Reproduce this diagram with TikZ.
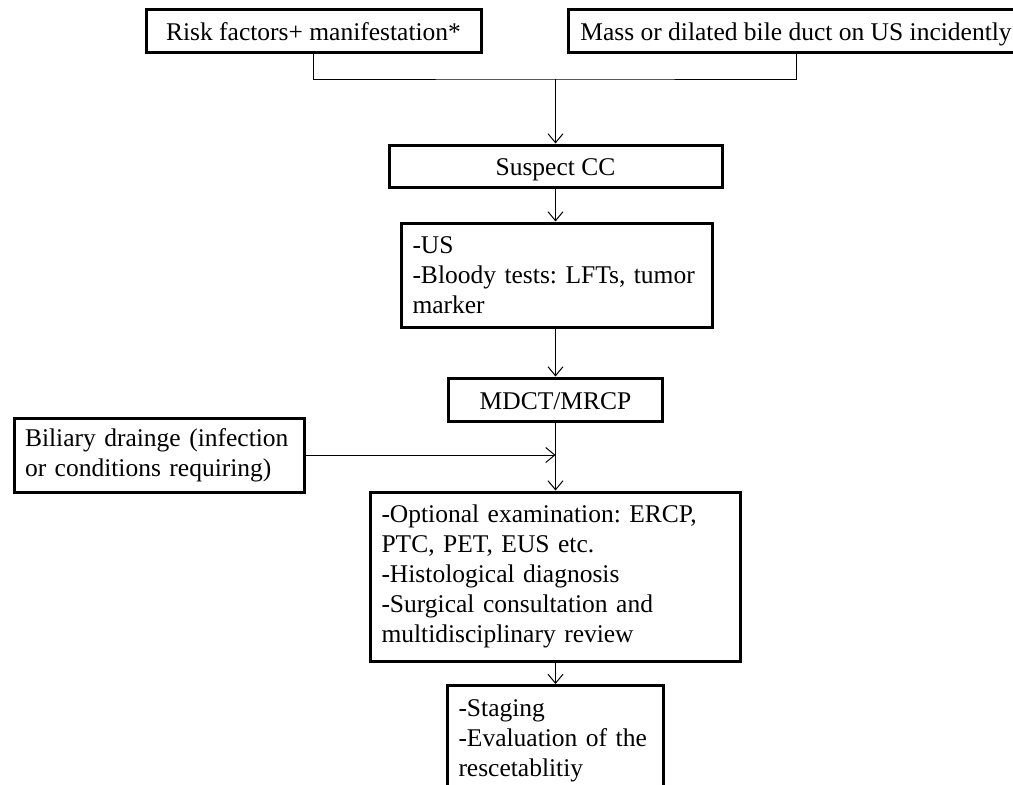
\documentclass[tikz,border=0pt]{standalone}
\usepackage{fontspec}
\setmainfont{Liberation Serif}
\usepackage{tikz}
\usetikzlibrary{arrows.meta}

\begin{document}
\frenchspacing
\begin{tikzpicture}[
  x=1pt, y=-1pt,
  font=\fontsize{25.5}{30}\selectfont\frenchspacing,
  stepbox/.style={draw, line width=3pt, inner sep=0pt, align=center,
    text height=24pt, text depth=5pt},
  listbox/.style={draw, line width=3pt, inner xsep=11pt, inner ysep=0pt,
    align=left, text width=#1},
  link/.style={line width=1pt},
  flow/.style={link, -{Straight Barb[length=9pt, width=15pt]}}
]
  \useasboundingbox (0,0) rectangle (1013,785);
  \clip (0,0) rectangle (1013,785);

  % entry points
  \node[stepbox, minimum width=335pt, minimum height=43pt] (risk) at (313.5,30.5)
    {Risk factors+ manifestation*};
  \node[stepbox, minimum width=456pt, minimum height=43pt] (mass) at (796,30.5)
    {Mass or dilated bile duct on US incidently};
  \coordinate (join) at (555.5,79);

  % work-up
  \node[stepbox, minimum width=333pt, minimum height=42pt] (suspect) at (555.5,166)
    {Suspect CC};
  \node[listbox=289pt, minimum height=104pt] (tests) at (557,275)
    {-US\\-Bloody tests: LFTs, tumor\\marker};
  \node[stepbox, minimum width=214pt, minimum height=43pt] (mdct) at (555.5,399.5)
    {MDCT/MRCP};
  \node[listbox=268pt, minimum height=74pt] (drain) at (159,455)
    {Biliary drainge (infection\\or conditions requiring)};
  \node[listbox=348pt, minimum height=169pt] (opt) at (555.5,576.5)
    {-Optional examination: ERCP,\\PTC, PET, EUS etc.\\-Histological diagnosis\\-Surgical consultation and\\multidisciplinary review};
  \node[listbox=194pt, inner ysep=14pt, anchor=north] (staging) at (555.5,684)
    {-Staging\\-Evaluation of the\\rescetablitiy};

  \draw[link] (risk.south) |- (join) -| (mass.south);
  \draw[flow] (join) -- (suspect.north);
  \draw[flow] (suspect) -- (suspect |- tests.north);
  \draw[flow] (suspect |- tests.south) -- (mdct);
  \draw[flow] (mdct) -- (opt);
  \draw[flow] (drain.east) -- (drain.east -| mdct.south);
  \draw[flow] (opt) -- (staging);
\end{tikzpicture}
\end{document}
